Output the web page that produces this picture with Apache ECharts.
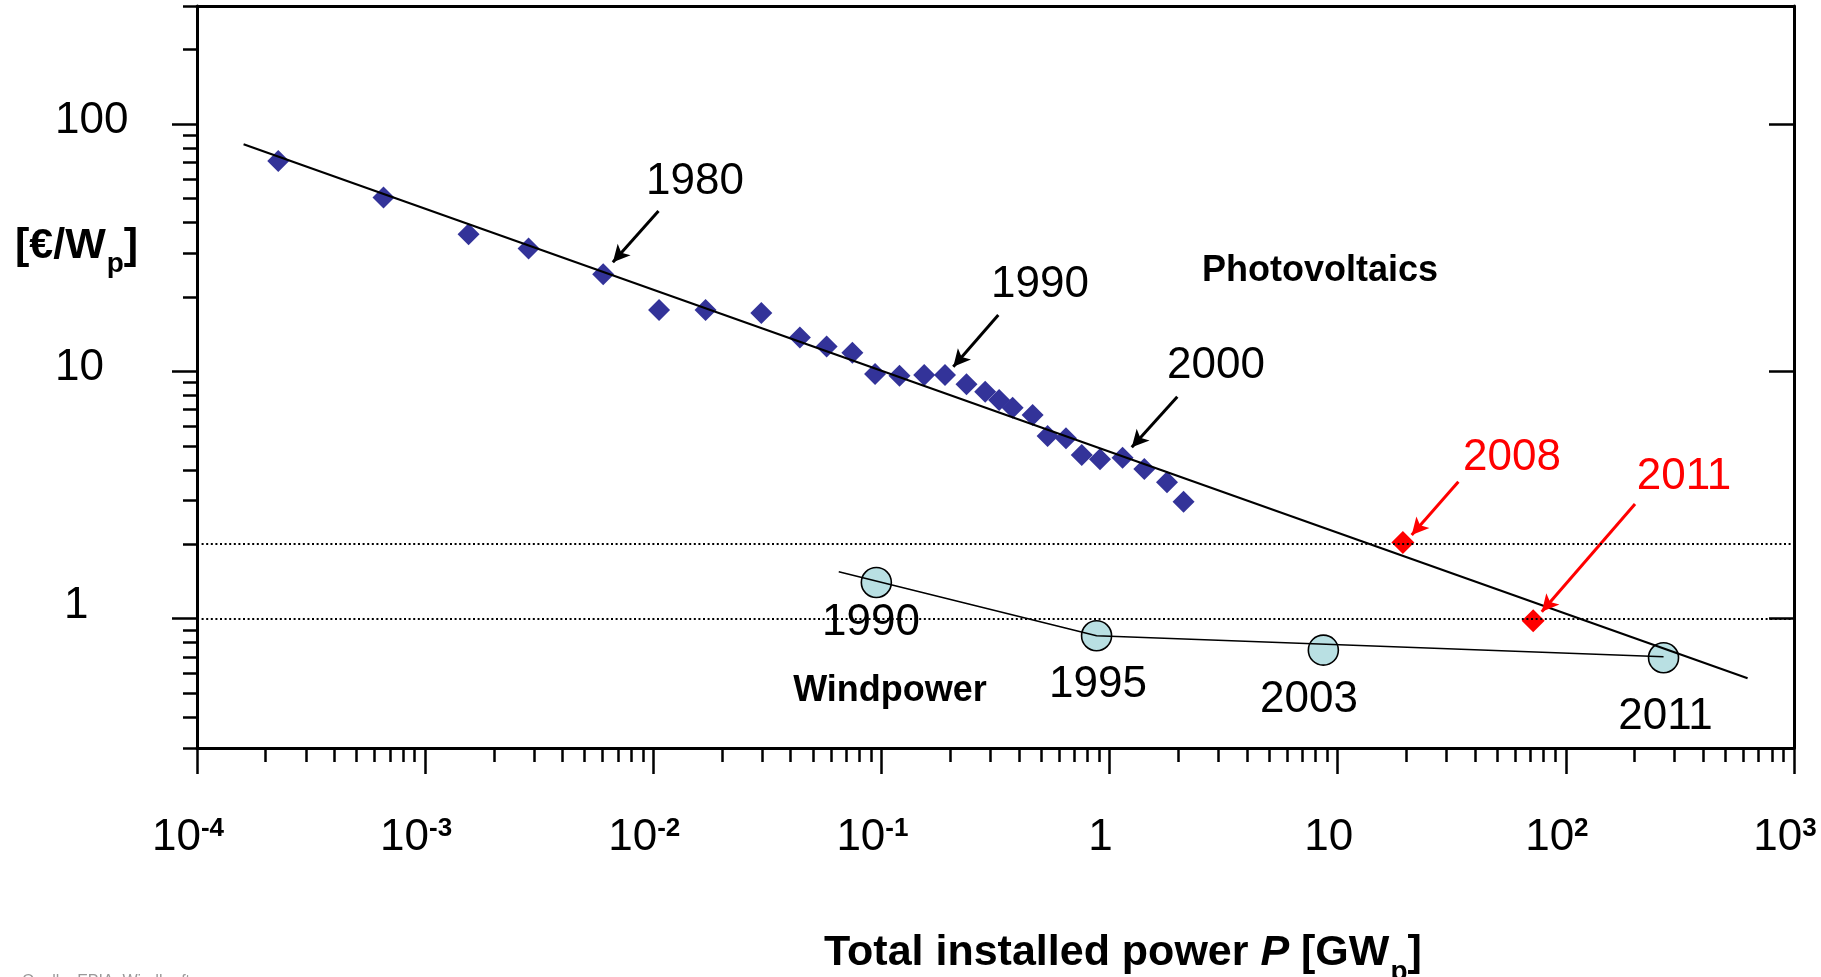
<!DOCTYPE html>
<html><head><meta charset="utf-8">
<script src="https://cdn.jsdelivr.net/npm/echarts@6/dist/echarts.min.js"></script>
<style>html,body{margin:0;padding:0;background:#fff}#c{width:1821px;height:977px}</style>
</head><body><div id="c"></div>
<script>
// ---------- data ----------
const pvX = [2.27e-4, 6.57e-4, 1.55e-3, 2.84e-3, 6.03e-3, 0.0106, 0.01695, 0.02975, 0.0439, 0.0575, 0.0746, 0.0938, 0.120, 0.154, 0.190, 0.236, 0.285, 0.328, 0.376, 0.460, 0.535, 0.644, 0.755, 0.908, 1.14, 1.42, 1.785, 2.11];
const pvY = [70.8, 50.5, 35.8, 31.4, 24.7, 17.7, 17.7, 17.2, 13.7, 12.6, 11.9, 9.75, 9.6, 9.66, 9.66, 8.86, 8.27, 7.66, 7.13, 6.66, 5.48, 5.36, 4.59, 4.41, 4.47, 4.03, 3.56, 2.97];
const pvRedX = [19.3, 71.9];
const pvRedY = [2.03, 0.98];
const windX = [0.095, 0.877, 8.65, 268];
const windY = [1.40, 0.853, 0.746, 0.695];
const pvFitX = [1.6e-4, 626];
const pvFitY = [82.8, 0.574];
const windFitX = [0.065, 0.877, 268];
const windFitY = [1.548, 0.853, 0.702];
const refLevels = [2, 1];

const pvYearText = ['1980', '1990', '2000'];
const pvYearX = [0.01524, 0.4955, 2.927];
const pvYearY = [59.9, 22.97, 10.86];
const redYearText = ['2008', '2011'];
const redYearX = [58.1, 329.6];
const redYearY = [4.59, 3.85];
const windYearText = ['1990', '1995', '2003', '2011'];
const windYearX = [0.090, 0.890, 7.48, 273.4];
const windYearY = [0.988, 0.554, 0.4824, 0.4117];
const nameText = ['Photovoltaics', 'Windpower'];
const nameX = [8.36, 0.109];
const nameY = [26.2, 0.5244];

const blackArrowFrom = [[0.01054, 44.5], [0.3253, 16.9], [1.981, 7.90]];
const blackArrowTo = [[0.00665, 27.6], [0.2065, 10.44], [1.251, 4.93]];
const redArrowFrom = [[33.8, 3.58], [201, 2.91]];
const redArrowTo = [[21.1, 2.18], [78.4, 1.067]];

const xMajor = [1e-4, 1e-3, 1e-2, 1e-1, 1, 10, 100, 1000];
const xMajorBase = ['10', '10', '10', '10', '1', '10', '10', '10'];
const xMajorExp = ['-4', '-3', '-2', '-1', '', '', '2', '3'];
const yMajor = [1, 10, 100];
const yMajorText = ['1', '10', '100'];

const xMinor = [];
for (let k = -4; k <= 2; k++) for (let m = 2; m <= 9; m++) xMinor.push(Number((m * Math.pow(10, k)).toPrecision(6)));
const yMinor = [];
for (let k = -1; k <= 2; k++) for (let m = 2; m <= 9; m++) {
  const v = Number((m * Math.pow(10, k)).toPrecision(6));
  if (v >= 0.3 && v <= 300) yMinor.push(v);
}
yMinor.push(0.3); yMinor.push(300);

// ---------- chart ----------
const FONT = "'Liberation Sans', Arial, sans-serif";
const chart = echarts.init(document.getElementById('c'));
const zip = (a, b) => a.map((v, i) => [v, b[i]]);
const labelData = (t, x, y) => t.map((s, i) => ({ name: s, value: [x[i], y[i]] }));

const xr = { type: 'log', logBase: 10, min: 1e-4, max: 1000, splitLine: { show: false }, gridIndex: 0 };
const yr = { type: 'log', logBase: 10, min: 0.3, max: 300, splitLine: { show: false }, gridIndex: 0 };
const blackLine = { lineStyle: { color: '#000', width: 3 }, onZero: false };

// measure for title pieces
const mctx = document.createElement('canvas').getContext('2d');
function tw(txt, weight, style, size) {
  mctx.font = `${style || 'normal'} ${weight} ${size}px "Liberation Sans"`;
  return mctx.measureText(txt).width;
}
const xtX = 824;
const xtW = tw('Total installed power ', 'bold', 'normal', 43) + tw('P', 'bold', 'italic', 43) + tw(' [GW', 'bold', 'normal', 43);
const ytX = 15;
const ytW = tw('[€/W', 'bold', 'normal', 43);

const labelBase = { show: true, position: 'inside', formatter: '{b}', fontFamily: FONT, offset: [0, 3], opacity: 1 };

chart.setOption({
  animation: false,
  backgroundColor: '#fff',
  grid: { left: 197, right: 27, top: 6, bottom: 229, containLabel: false },
  xAxis: [
    Object.assign({}, xr, {
      position: 'bottom',
      axisLine: Object.assign({ show: true }, blackLine),
      axisTick: { show: true, length: 26, lineStyle: { color: '#000', width: 2.5 }, customValues: xMajor },
      axisLabel: {
        show: true, customValues: xMajor, margin: 68, color: '#000',
        formatter: function (v) {
          let i = xMajor.findIndex(m => Math.abs(Math.log10(m) - Math.log10(v)) < 1e-6);
          if (i < 0) return '';
          return '{b|' + xMajorBase[i] + '}' + (xMajorExp[i] ? '{s|' + xMajorExp[i] + '}' : '');
        },
        rich: {
          b: { fontSize: 44, fontFamily: FONT, color: '#000', lineHeight: 44 },
          s: { fontSize: 26, fontFamily: FONT, fontWeight: 'bold', color: '#000', lineHeight: 26, verticalAlign: 'top' }
        },
        padding: [0, 18, 0, 0]
      }
    }),
    Object.assign({}, xr, {
      position: 'bottom',
      axisLine: { show: false, onZero: false },
      axisTick: { show: true, length: 14, lineStyle: { color: '#000', width: 2.5 }, customValues: xMinor },
      axisLabel: { show: false }
    }),
    Object.assign({}, xr, {
      position: 'top',
      axisLine: Object.assign({ show: true }, blackLine),
      axisTick: { show: false },
      axisLabel: { show: false }
    })
  ],
  yAxis: [
    Object.assign({}, yr, {
      position: 'left',
      axisLine: Object.assign({ show: true }, blackLine),
      axisTick: { show: true, length: 25, lineStyle: { color: '#000', width: 2.5 }, customValues: yMajor },
      axisLabel: {
        show: true, customValues: yMajor, margin: 142, align: 'left', color: '#000',
        formatter: function (v) {
          let i = yMajor.findIndex(m => Math.abs(Math.log10(m) - Math.log10(v)) < 1e-6);
          if (i < 0) return '';
          return (yMajorText[i] === '1' ? '{o|' : '{a|') + yMajorText[i] + '}';
        },
        rich: {
          a: { fontSize: 44, fontFamily: FONT, color: '#000', padding: [0, 0, 6, 0] },
          o: { fontSize: 44, fontFamily: FONT, color: '#000', padding: [0, 0, 25, 9] }
        }
      }
    }),
    Object.assign({}, yr, {
      position: 'left',
      axisLine: { show: false, onZero: false },
      axisTick: { show: true, length: 14, lineStyle: { color: '#000', width: 2.5 }, customValues: yMinor },
      axisLabel: { show: false }
    }),
    Object.assign({}, yr, {
      position: 'right',
      axisLine: Object.assign({ show: true }, blackLine),
      axisTick: { show: true, inside: true, length: 25, lineStyle: { color: '#000', width: 2.5 }, customValues: yMajor },
      axisLabel: { show: false }
    })
  ],
  series: [
    {
      name: 'PV', type: 'scatter', symbol: 'diamond', symbolSize: 22,
      itemStyle: { color: '#333399', opacity: 1 }, data: zip(pvX, pvY), z: 3, silent: true
    },
    {
      name: 'PV red', type: 'scatter', symbol: 'diamond', symbolSize: 23,
      itemStyle: { color: '#ff0000', opacity: 1 }, data: zip(pvRedX, pvRedY), z: 3, silent: true,
      markLine: {
        silent: true, animation: false, symbol: ['none', 'arrow'], symbolSize: [13, 17],
        label: { show: false }, lineStyle: { color: '#ff0000', width: 3, type: 'solid', opacity: 1 },
        data: redArrowFrom.map((f, i) => [{ coord: f }, { coord: redArrowTo[i] }])
      }
    },
    {
      name: 'Wind', type: 'scatter', symbol: 'circle', symbolSize: 30,
      itemStyle: { color: '#b9e0e3', borderColor: '#000', borderWidth: 1.6, opacity: 1 },
      data: zip(windX, windY), z: 3, silent: true
    },
    {
      name: 'PV fit', type: 'line', data: zip(pvFitX, pvFitY), showSymbol: false, symbol: 'none',
      lineStyle: { color: '#000', width: 2.2 }, z: 4, silent: true,
      markLine: {
        silent: true, animation: false, symbol: ['none', 'arrow'], symbolSize: [13, 17],
        label: { show: false }, lineStyle: { color: '#000', width: 3, type: 'solid', opacity: 1 },
        data: blackArrowFrom.map((f, i) => [{ coord: f }, { coord: blackArrowTo[i] }])
      }
    },
    {
      name: 'Wind fit', type: 'line', data: zip(windFitX, windFitY), showSymbol: false, symbol: 'none',
      lineStyle: { color: '#000', width: 1.6 }, z: 4, silent: true,
      markLine: {
        silent: true, animation: false, symbol: ['none', 'none'],
        label: { show: false }, lineStyle: { color: '#000', width: 2, type: [2, 2.6], opacity: 1 },
        data: refLevels.map(v => ({ yAxis: v }))
      }
    },
    {
      name: 'PV years', type: 'scatter', symbolSize: 0, silent: true, z: 6, itemStyle: { opacity: 1 },
      data: labelData(pvYearText, pvYearX, pvYearY),
      label: Object.assign({}, labelBase, { fontSize: 44, color: '#000' })
    },
    {
      name: 'Red years', type: 'scatter', symbolSize: 0, silent: true, z: 6, itemStyle: { opacity: 1 },
      data: labelData(redYearText, redYearX, redYearY),
      label: Object.assign({}, labelBase, { fontSize: 44, color: '#ff0000' })
    },
    {
      name: 'Wind years', type: 'scatter', symbolSize: 0, silent: true, z: 6, itemStyle: { opacity: 1 },
      data: labelData(windYearText, windYearX, windYearY),
      label: Object.assign({}, labelBase, { fontSize: 44, color: '#000' })
    },
    {
      name: 'Names', type: 'scatter', symbolSize: 0, silent: true, z: 6, itemStyle: { opacity: 1 },
      data: labelData(nameText, nameX, nameY),
      label: Object.assign({}, labelBase, { fontSize: 36, fontWeight: 'bold', color: '#000' })
    }
  ],
  graphic: [
    { type: 'text', x: ytX, y: 246, silent: true,
      style: { text: '[€/W', font: 'bold 43px "Liberation Sans"', fill: '#000', align: 'left', verticalAlign: 'middle' } },
    { type: 'text', x: ytX + ytW + 1, y: 264, silent: true,
      style: { text: 'p', font: 'bold 28px "Liberation Sans"', fill: '#000', align: 'left', verticalAlign: 'middle' } },
    { type: 'text', x: ytX + ytW + 1 + tw('p', 'bold', 'normal', 28), y: 246, silent: true,
      style: { text: ']', font: 'bold 43px "Liberation Sans"', fill: '#000', align: 'left', verticalAlign: 'middle' } },
    { type: 'text', x: xtX, y: 953, silent: true,
      style: { text: '{a|Total installed power }{i|P}{a| [GW}', align: 'left', verticalAlign: 'middle',
        rich: { a: { fontSize: 43, fontWeight: 'bold', fontFamily: FONT, fill: '#000' },
                i: { fontSize: 43, fontWeight: 'bold', fontStyle: 'italic', fontFamily: FONT, fill: '#000' } } } },
    { type: 'text', x: xtX + xtW + 1, y: 972, silent: true,
      style: { text: 'p', font: 'bold 28px "Liberation Sans"', fill: '#000', align: 'left', verticalAlign: 'middle' } },
    { type: 'text', x: xtX + xtW + 1 + tw('p', 'bold', 'normal', 28), y: 953, silent: true,
      style: { text: ']', font: 'bold 43px "Liberation Sans"', fill: '#000', align: 'left', verticalAlign: 'middle' } },
    { type: 'text', x: 22, y: 974, silent: true,
      style: { text: 'Quelle: EPIA, Windkraft', font: '16px "Liberation Sans"', fill: '#999', align: 'left', verticalAlign: 'top' } }
  ]
});
</script>
</body></html>
